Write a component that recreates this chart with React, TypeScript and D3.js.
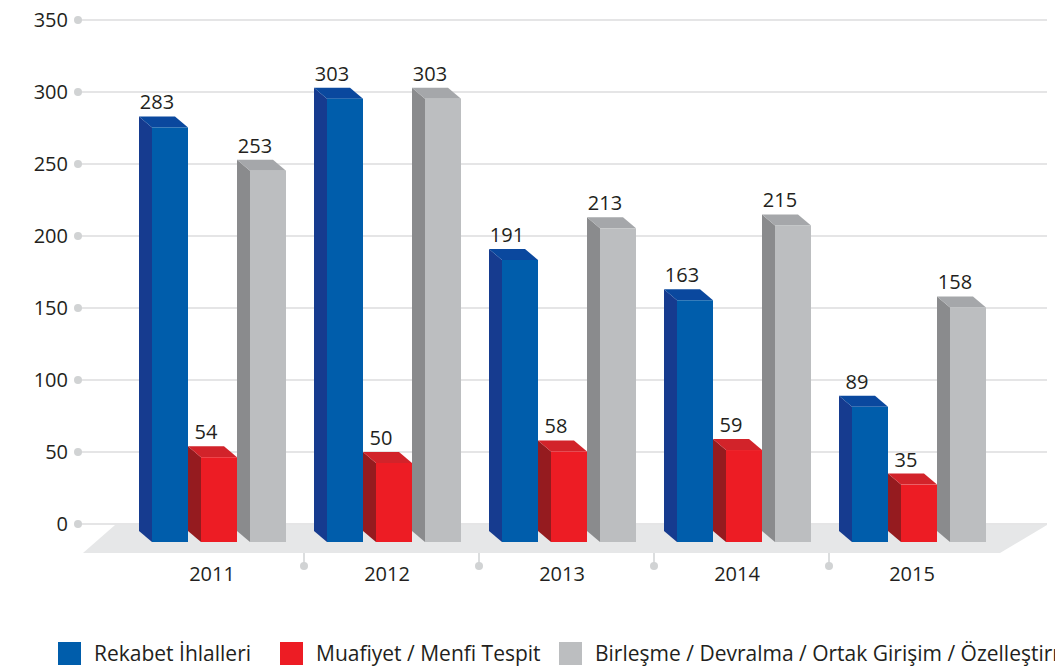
import React from "react";
import * as d3 from "d3";

const years = ["2011", "2012", "2013", "2014", "2015"];
const rekabet = [283, 303, 191, 163, 89];
const muafiyet = [54, 50, 58, 59, 35];
const birlesme = [253, 303, 213, 215, 158];
const seriesNames = [
  "Rekabet İhlalleri",
  "Muafiyet / Menfi Tespit",
  "Birleşme / Devralma / Ortak Girişim / Özelleştirme",
];
const yTicks = [0, 50, 100, 150, 200, 250, 300, 350];

// front, side, top
const palette = [
  ["#005dab", "#163b8f", "#0a489e"],
  ["#ed1c24", "#951b1f", "#d2232a"],
  ["#bcbec0", "#8a8b8d", "#a5a7aa"],
];

const W = 1055;
const H = 668;
const font = "'Open Sans', sans-serif";
const textColor = "#231f20";

const depthX = 13;
const depthY = 11;
const frontW = 36;

export default function App() {
  const series = [rekabet, muafiyet, birlesme];

  const y = d3.scaleLinear().domain([0, 350]).range([524, 20]);
  const x = d3.scaleBand().domain(years).range([129, 1004]);
  const inner = d3
    .scaleBand<number>()
    .domain([0, 1, 2])
    .range([0, (frontW + depthX) * 3]);

  const base = y(0) + 7;
  const floorTop = y(0) + 1;
  const floorBot = y(0) + 29;
  const legendX = [58, 280, 559];

  return (
    <svg
      width={W}
      height={H}
      style={{ position: "absolute", left: 0, top: 0, background: "#fff" }}
      fontFamily={font}
    >
      {/* grid */}
      {yTicks.map((t) => (
        <g key={t}>
          <line x1={80} x2={1047} y1={y(t)} y2={y(t)} stroke="#dcddde" strokeWidth={1.5} />
          <circle cx={78} cy={y(t)} r={4} fill="#d1d3d4" />
          <text
            x={68}
            y={y(t)}
            dy="0.35em"
            textAnchor="end"
            fontSize={20}
            fill={textColor}
          >
            {t}
          </text>
        </g>
      ))}

      {/* floor */}
      <polygon
        points={`115,${floorTop} 1047,${floorTop} 1000,${floorBot} 83,${floorBot}`}
        fill="#e6e7e8"
      />

      {/* separators */}
      {years.slice(1).map((yr) => {
        const sx = x(yr)!;
        return (
          <g key={yr}>
            <line x1={sx} x2={sx} y1={floorBot} y2={floorBot + 11} stroke="#d1d3d4" strokeWidth={1.5} />
            <circle cx={sx} cy={floorBot + 13} r={4} fill="#d1d3d4" />
          </g>
        );
      })}

      {/* bars */}
      {years.map((yr, gi) => (
        <g key={yr}>
          {series.map((vals, si) => {
            const v = vals[gi];
            const sx = x(yr)! + 10 + inner(si)!;
            const top = y(v);
            const [front, side, topC] = palette[si];
            return (
              <g key={si}>
                <polygon
                  points={`${sx},${top} ${sx + depthX},${top + depthY} ${sx + depthX},${base + depthY} ${sx},${base}`}
                  fill={side}
                />
                <polygon
                  points={`${sx},${top} ${sx + frontW},${top} ${sx + frontW + depthX},${top + depthY} ${sx + depthX},${top + depthY}`}
                  fill={topC}
                />
                <rect x={sx + depthX} y={top + depthY} width={frontW} height={base - top} fill={front} />
                <text
                  x={sx + frontW / 2}
                  y={top - 7}
                  textAnchor="middle"
                  fontSize={20}
                  fill={textColor}
                >
                  {v}
                </text>
              </g>
            );
          })}
          <text
            x={x(yr)! + 83}
            y={581}
            textAnchor="middle"
            fontSize={20}
            fill={textColor}
          >
            {yr}
          </text>
        </g>
      ))}

      {/* legend */}
      {seriesNames.map((name, i) => (
        <g key={name} transform={`translate(${legendX[i]},642)`}>
          <rect width={23} height={23} fill={palette[i][0]} />
          <text x={36} y={19} fontSize={21} fill={textColor}>
            {name}
          </text>
        </g>
      ))}
    </svg>
  );
}
